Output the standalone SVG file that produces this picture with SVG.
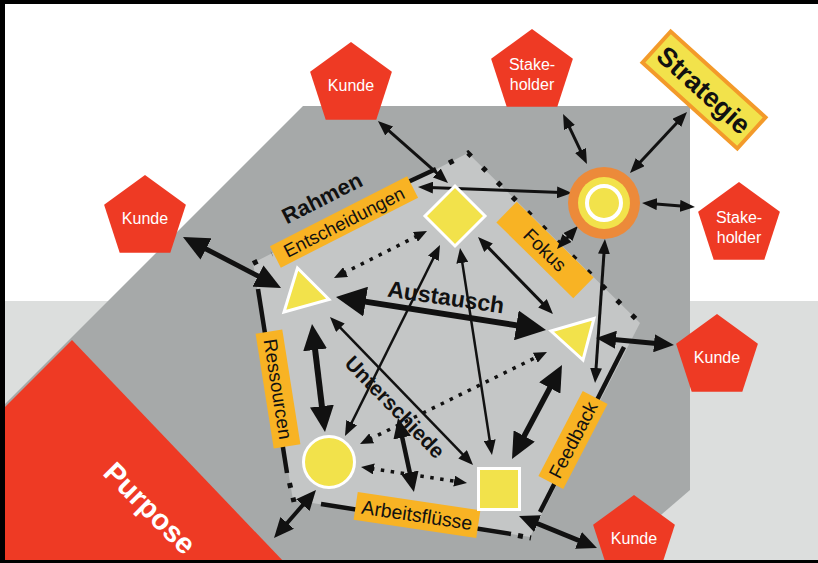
<svg xmlns="http://www.w3.org/2000/svg" xmlns:xlink="http://www.w3.org/1999/xlink" width="818" height="563" viewBox="0 0 818 563">
<style>
.t{font-family:"Liberation Sans",Arial,sans-serif;}
.pt{font-family:"Liberation Sans",Arial,sans-serif;font-size:16px;fill:#fff;text-anchor:middle;}
.lb{fill:#f8b324;}
.lt{font-family:"Liberation Sans",Arial,sans-serif;fill:#111;text-anchor:middle;}
.bt{font-family:"Liberation Sans",Arial,sans-serif;font-weight:bold;fill:#111;text-anchor:middle;}
.nd{fill:#f2e24b;stroke:#fff;stroke-width:3;}
.c{fill:none;stroke:#111;stroke-linecap:butt;}
.d{fill:none;stroke:#111;stroke-width:3.5;stroke-dasharray:3.5 6.5;}
.bd{fill:none;stroke:#111;stroke-width:4.5;}
.bdd{fill:none;stroke:#111;stroke-width:5;stroke-dasharray:5 16;}
</style>
<defs>
<path id="pent" d="M0,-43 L40.9,-13.3 L25.3,34.8 L-25.3,34.8 L-40.9,-13.3 Z" fill="#ee3a24"/>
<marker id="a3" viewBox="0 0 15 12" refX="4" refY="6" markerWidth="15" markerHeight="12" orient="auto-start-reverse" markerUnits="userSpaceOnUse"><path d="M0,0 L15,6 L0,12 Z" fill="#111"/></marker>
<marker id="a4" viewBox="0 0 20 18" refX="5" refY="9" markerWidth="20" markerHeight="18" orient="auto-start-reverse" markerUnits="userSpaceOnUse"><path d="M0,0 L20,9 L0,18 Z" fill="#111"/></marker>
<marker id="a5" viewBox="0 0 26 24" refX="6" refY="12" markerWidth="26" markerHeight="24" orient="auto-start-reverse" markerUnits="userSpaceOnUse"><path d="M0,0 L26,12 L0,24 Z" fill="#111"/></marker>
<marker id="a6" viewBox="0 0 30 30" refX="7" refY="15" markerWidth="30" markerHeight="30" orient="auto-start-reverse" markerUnits="userSpaceOnUse"><path d="M0,0 L30,15 L0,30 Z" fill="#111"/></marker>
<marker id="ad" viewBox="0 0 13 11" refX="3" refY="5.5" markerWidth="13" markerHeight="11" orient="auto-start-reverse" markerUnits="userSpaceOnUse"><path d="M0,0 L13,5.5 L0,11 Z" fill="#111"/></marker>
</defs>

<g id="background">
<rect x="0" y="0" width="818" height="563" fill="#fff"/>
<rect x="0" y="301" width="818" height="262" fill="#dcdedd"/>
<polygon points="303,106 690,106 690,490 605,563 5,563 5,404" fill="#a6a9a9"/>
<polygon points="72,340 5,407 5,563 285,563" fill="#ee3a24"/>
<text class="bt" transform="translate(150,508) rotate(45)" font-size="29" fill="#fff" style="fill:#fff" dy="0.35em">Purpose</text>
<polygon points="253,263 468,153 640,323 530,537 293,500" fill="#c4c6c6"/>
</g>

<g id="boundary">
<path class="bdd" d="M253,263.5 L272,254"/>
<path class="bd" d="M408,182 L436,169"/>
<path class="bdd" d="M449,163 L468,153 L640,323"/>
<path class="bd" d="M258,289 L287,473"/>
<path class="bdd" d="M289.5,483 L294,502" style="stroke-dasharray:5 10"/>
<path class="bd" d="M321,504 L511,534"/>
<path class="bdd" d="M518,535.5 L531,538" style="stroke-dasharray:5 7"/>
<path class="bd" d="M540,512 L624,347"/>
</g>

<g id="labels">
<g id="label-rahmen"><text class="bt" transform="translate(322,198) rotate(-27)" font-size="22" dy="0.35em">Rahmen</text></g>
<g id="label-entscheidungen" transform="translate(344,222) rotate(-27)"><rect class="lb" x="-77" y="-12" width="154" height="24"/><text class="lt" font-size="18.5" dy="0.35em">Entscheidungen</text></g>
<g id="label-fokus" transform="translate(545,250) rotate(44.6)"><rect class="lb" x="-54" y="-14.5" width="108" height="29"/><text class="lt" font-size="19" dy="0.35em">Fokus</text></g>
<g id="label-ressourcen" transform="translate(278,389) rotate(81)"><rect class="lb" x="-58" y="-13.5" width="116" height="27"/><text class="lt" font-size="19" dy="0.35em">Ressourcen</text></g>
<g id="label-feedback" transform="translate(573,440) rotate(-62.5)"><rect class="lb" x="-48" y="-14" width="96" height="28"/><text class="lt" font-size="19" dy="0.35em">Feedback</text></g>
<g id="label-arbeitsfluesse" transform="translate(417,515) rotate(8.5)"><rect class="lb" x="-62" y="-14" width="124" height="28"/><text class="lt" font-size="19.5" dy="0.35em">Arbeitsflüsse</text></g>
</g>

<g id="connectors">
<line class="c" stroke-width="3" x1="386.2" y1="128.3" x2="439.8" y2="175.7" marker-start="url(#a3)" marker-end="url(#a3)"/>
<line class="c" stroke-width="5" x1="200.7" y1="246.2" x2="263.3" y2="278.8" marker-start="url(#a5)" marker-end="url(#a5)"/>
<line class="c" stroke-width="3" x1="429" y1="187.4" x2="561" y2="192.6" marker-start="url(#a3)" marker-end="url(#a3)"/>
<line class="c" stroke-width="3" x1="567.8" y1="123.9" x2="582.2" y2="154.1" marker-start="url(#a3)" marker-end="url(#a3)"/>
<line class="c" stroke-width="3" x1="679.5" y1="120" x2="637.5" y2="165" marker-start="url(#a3)" marker-end="url(#a3)"/>
<line class="c" stroke-width="3" x1="653" y1="203.8" x2="684" y2="206.2" marker-start="url(#a3)" marker-end="url(#a3)"/>
<line class="c" stroke-width="3" x1="570.6" y1="234.1" x2="564.4" y2="240.9" marker-start="url(#a3)" marker-end="url(#a3)"/>
<line class="c" stroke-width="3" x1="604.2" y1="250" x2="595.8" y2="372" marker-start="url(#a3)" marker-end="url(#a3)"/>
<line class="c" stroke-width="5" x1="611" y1="339.3" x2="659" y2="343.7" marker-start="url(#a4)" marker-end="url(#a4)"/>
<line class="c" stroke-width="5" x1="532.9" y1="521.7" x2="583.1" y2="542.3" marker-start="url(#a4)" marker-end="url(#a4)"/>
<line class="c" stroke-width="4" x1="306.1" y1="501.3" x2="283.9" y2="526.7" marker-start="url(#a4)" marker-end="url(#a4)"/>
<line class="c" stroke-width="6" x1="358.7" y1="300.6" x2="523.3" y2="326.4" marker-start="url(#a6)" marker-end="url(#a6)"/>
<line class="c" stroke-width="6" x1="314.4" y1="343.9" x2="322.6" y2="412.1" marker-start="url(#a5)" marker-end="url(#a5)"/>
<line class="c" stroke-width="5.5" x1="552.6" y1="382.7" x2="521.4" y2="441.3" marker-start="url(#a5)" marker-end="url(#a5)"/>
<line class="d" x1="370.9" y1="468.5" x2="457.1" y2="481.5" marker-start="url(#ad)" marker-end="url(#ad)"/>
<line class="d" x1="369" y1="439.6" x2="538" y2="356.4" marker-start="url(#ad)" marker-end="url(#ad)"/>
<line class="d" x1="342.9" y1="273.5" x2="418.1" y2="235.5" marker-start="url(#ad)" marker-end="url(#ad)"/>
<line class="c" stroke-width="3" x1="485.7" y1="244.9" x2="545.3" y2="306.1" marker-start="url(#a3)" marker-end="url(#a3)"/>
<line class="c" stroke-width="2.5" x1="435.1" y1="254.8" x2="349.9" y2="426.2" marker-start="url(#a3)" marker-end="url(#a3)"/>
<line class="c" stroke-width="2.5" x1="461.7" y1="258.9" x2="490.3" y2="444.1" marker-start="url(#a3)" marker-end="url(#a3)"/>
<line class="c" stroke-width="2.5" x1="337.6" y1="324.9" x2="465.4" y2="457.1" marker-start="url(#a3)" marker-end="url(#a3)"/>
<line class="c" stroke-width="4.5" x1="401.2" y1="432.7" x2="410.8" y2="477.3" marker-start="url(#a4)" marker-end="url(#a4)"/>
</g>

<g id="texts">
<text class="bt" transform="translate(446,297) rotate(8.3)" font-size="23" dy="0.35em">Austausch</text>
<text class="bt" transform="translate(395,407) rotate(46)" font-size="21" dy="0.35em">Unterschiede</text>
</g>

<g id="node-triangle-left"><polygon class="nd" points="297.5,268 284,312 329,299.5"/></g>
<g id="node-diamond"><polygon class="nd" points="455,186 485,216 455,246 425,216"/></g>
<g id="node-triangle-right"><polygon class="nd" points="551,331 594,318.5 583,360"/></g>
<g id="node-circle"><circle class="nd" cx="329" cy="462" r="25.5"/></g>
<g id="node-square"><rect class="nd" x="478.5" y="468.5" width="41" height="41"/></g>
<g id="node-target">
<circle cx="604" cy="203" r="36" fill="#ec8a3a"/>
<circle cx="604" cy="203" r="26" fill="#f2e24b"/>
<circle cx="604" cy="203" r="17" fill="#f2e24b" stroke="#fff" stroke-width="4"/>
</g>

<g id="node-strategie" transform="translate(704,90) rotate(42.2)">
<rect x="-64" y="-21" width="128" height="42" fill="#f2e24b" stroke="#f39a2a" stroke-width="4"/>
<text class="bt" font-size="27" dy="0.35em">Strategie</text>
</g>

<g id="node-kunde-top"><use xlink:href="#pent" x="351" y="85"/><text class="pt" x="351" y="91">Kunde</text></g>
<g id="node-kunde-left"><use xlink:href="#pent" x="145" y="218"/><text class="pt" x="145" y="224">Kunde</text></g>
<g id="node-stakeholder-top"><use xlink:href="#pent" x="532" y="72"/><text class="pt" x="532" y="70">Stake-</text><text class="pt" x="532" y="90">holder</text></g>
<g id="node-stakeholder-right"><use xlink:href="#pent" x="739" y="225"/><text class="pt" x="739" y="223">Stake-</text><text class="pt" x="739" y="243">holder</text></g>
<g id="node-kunde-right"><use xlink:href="#pent" x="717" y="357"/><text class="pt" x="717" y="363">Kunde</text></g>
<g id="node-kunde-bottom"><use xlink:href="#pent" x="634" y="538"/><text class="pt" x="634" y="544">Kunde</text></g>

<g id="frame">
<rect x="0" y="0" width="818" height="4" fill="#000"/>
<rect x="0" y="0" width="5" height="563" fill="#000"/>
<rect x="0" y="560" width="818" height="3" fill="#000"/>
</g>
</svg>
